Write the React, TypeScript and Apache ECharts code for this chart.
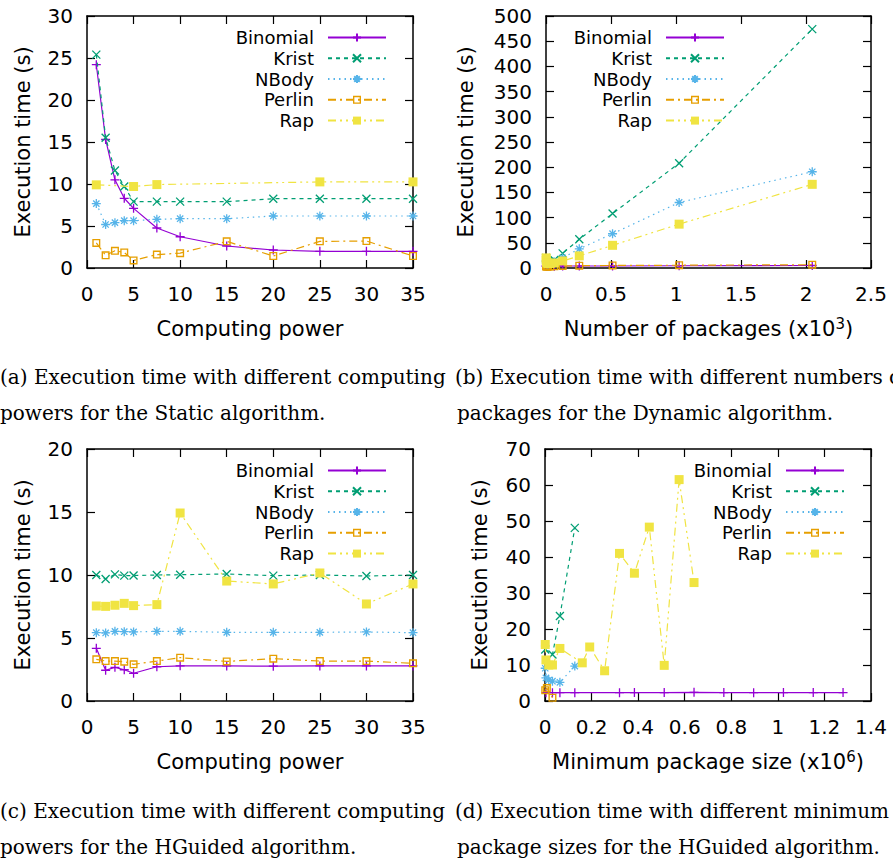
import React, { useEffect, useRef } from 'react';
import * as echarts from 'echarts';

const seriesNames = ['Binomial', 'Krist', 'NBody', 'Perlin', 'Rap'];
const seriesColors = ['#9400D3', '#009E73', '#56B4E9', '#E69F00', '#F0E442'];

// (a) Static algorithm vs computing power
const powerX = [1, 2, 3, 4, 5, 7.5, 10, 15, 20, 25, 30, 35];
const staticBinomial = [24.2, 15.3, 10.5, 8.3, 7.1, 4.76, 3.72, 2.62, 2.14, 1.98, 1.98, 1.98];
const staticKrist = [25.4, 15.5, 11.6, 9.7, 7.9, 7.9, 7.9, 7.9, 8.25, 8.25, 8.25, 8.25];
const staticNBody = [7.67, 5.18, 5.4, 5.63, 5.63, 5.8, 5.87, 5.87, 6.19, 6.19, 6.19, 6.19];
const staticPerlin = [2.98, 1.51, 2.05, 1.85, 0.9, 1.6, 1.77, 3.17, 1.43, 3.17, 3.21, 1.43];
const staticRapX = [1, 5, 7.5, 25, 35];
const staticRap = [9.9, 9.7, 9.93, 10.25, 10.25];

// (b) Dynamic algorithm vs number of packages (x10^3)
const packX = [0.001, 0.002, 0.004, 0.008, 0.016, 0.032, 0.064, 0.128, 0.256, 0.512, 1.024, 2.048];
const dynBinomial = [4, 3.5, 3.5, 3.5, 3.5, 3.5, 3.5, 4, 4, 4, 4.5, 5];
const dynKrist = [20, 16, 14, 13, 12, 12, 16, 29, 57, 108, 208, 474];
const dynNBody = [14, 10, 8, 7, 7, 8, 12, 20, 38, 68, 130, 191];
const dynPerlin = [4, 3, 3, 3, 3, 3, 3.5, 4, 4.5, 5, 5.5, 6.5];
const dynRap = [20, 15, 12, 10, 9, 9, 10, 14, 24, 45, 87, 166];

// (c) HGuided algorithm vs computing power
const hgBinomial = [4.18, 2.44, 2.67, 2.48, 2.2, 2.72, 2.79, 2.78, 2.76, 2.78, 2.78, 2.78];
const hgKrist = [10.0, 9.68, 10.05, 9.95, 9.96, 10.0, 10.02, 10.08, 9.95, 10.0, 9.92, 10.0];
const hgNBody = [5.42, 5.4, 5.53, 5.5, 5.48, 5.53, 5.53, 5.45, 5.45, 5.45, 5.48, 5.42];
const hgPerlin = [3.31, 3.17, 3.17, 3.12, 2.91, 3.17, 3.44, 3.14, 3.36, 3.17, 3.17, 2.99];
const hgRap = [7.54, 7.51, 7.6, 7.75, 7.57, 7.65, 14.92, 9.52, 9.29, 10.16, 7.7, 9.29];

// (d) HGuided algorithm vs minimum package size (x10^6)
const minBinomialX = [0.004, 0.032, 0.064, 0.128, 0.32, 0.384, 0.512, 0.64, 0.768, 0.896, 1.024, 1.152, 1.28];
const minBinomial = [2.3, 2.3, 2.3, 2.3, 2.3, 2.35, 2.35, 2.4, 2.35, 2.3, 2.35, 2.35, 2.35];
const minKristX = [0.001, 0.032, 0.064, 0.128];
const minKrist = [14.3, 12.9, 23.6, 48.1];
const minNBodyX = [0.001, 0.004, 0.016, 0.032, 0.064, 0.128];
const minNBody = [9.1, 6.4, 5.8, 5.5, 5.2, 9.7];
const minPerlinX = [0.001, 0.008, 0.032];
const minPerlin = [3.0, 3.6, 0.9];
const minRapX = [0.001, 0.004, 0.016, 0.032, 0.064, 0.16, 0.192, 0.256, 0.32, 0.384, 0.448, 0.512, 0.576, 0.64];
const minRap = [15.7, 11.4, 10, 10, 14.6, 10.6, 15, 8.4, 41, 35.5, 48.3, 9.9, 61.5, 32.9];

const captionLines = [
  { text: '(a) Execution time with different computing', x: 0, y: 377 },
  { text: 'powers for the Static algorithm.', x: 0, y: 413 },
  { text: '(b) Execution time with different numbers of', x: 455, y: 377 },
  { text: 'packages for the Dynamic algorithm.', x: 457, y: 413 },
  { text: '(c) Execution time with different computing', x: 0, y: 811 },
  { text: 'powers for the HGuided algorithm.', x: 0, y: 847 },
  { text: '(d) Execution time with different minimum', x: 455, y: 811 },
  { text: 'package sizes for the HGuided algorithm.', x: 457, y: 847 },
];

const FONT = "'DejaVu Sans', sans-serif";
const SERIF = "'DejaVu Serif', serif";

const symbols = [
  'path://M5,0L5,10M0,5L10,5',
  'path://M0,0L10,10M10,0L0,10',
  'path://M5,0L5,10M0,5L10,5M1.5,1.5L8.5,8.5M8.5,1.5L1.5,8.5',
  'path://M0,0H10V10H0ZM1.7,1.7V8.3H8.3V1.7Z',
  'rect',
];
const symbolSizes = [9, 8, 9, 8, 9];
const dashes: any[] = ['solid', [4, 4], [1.5, 4], [8, 4, 2, 4], [8, 4, 2, 4, 2, 4]];

function mkSeries(si: number, grid: number, xs: number[], ys: number[]) {
  const c = seriesColors[si];
  const isStroke = si < 3;
  return {
    type: 'line',
    name: seriesNames[si],
    xAxisIndex: grid * 2,
    yAxisIndex: grid * 2,
    data: xs.map((x, i) => [x, ys[i]]),
    symbol: symbols[si],
    symbolSize: symbolSizes[si],
    showSymbol: true,
    clip: false,
    lineStyle: { color: c, width: 1.2, type: dashes[si] },
    itemStyle: isStroke ? { color: c, borderColor: c, borderWidth: 1.3 } : { color: c, borderWidth: 0 },
    emphasis: { disabled: true },
    z: 2 + si,
  };
}

type GridDef = {
  left: number; top: number; width: number; height: number;
  xmin: number; xmax: number; xint: number;
  ymin: number; ymax: number; yint: number;
  xName: string; yNameGap: number;
  legendRight: number; legendTop: number;
};

const grids: GridDef[] = [
  { left: 87, top: 16, width: 326, height: 252, xmin: 0, xmax: 35, xint: 5, ymin: 0, ymax: 30, yint: 5,
    xName: 'Computing power', yNameGap: 54, legendRight: 506, legendTop: 27 },
  { left: 546, top: 16, width: 325, height: 252, xmin: 0, xmax: 2.5, xint: 0.5, ymin: 0, ymax: 500, yint: 50,
    xName: 'Number of packages (x10{sup|3})', yNameGap: 70, legendRight: 168, legendTop: 27 },
  { left: 87, top: 449, width: 326, height: 252, xmin: 0, xmax: 35, xint: 5, ymin: 0, ymax: 20, yint: 5,
    xName: 'Computing power', yNameGap: 54, legendRight: 506, legendTop: 460 },
  { left: 545, top: 449, width: 326, height: 252, xmin: 0, xmax: 1.4, xint: 0.2, ymin: 0, ymax: 70, yint: 10,
    xName: 'Minimum package size (x10{sup|6})', yNameGap: 55, legendRight: 48, legendTop: 460 },
];

const axisLine = { show: true, onZero: false, lineStyle: { color: '#000', width: 1.5 } };
const axisTick = { show: true, inside: true, length: 8, lineStyle: { color: '#000', width: 1.2 } };
const labelStyle = { fontFamily: FONT, fontSize: 20, color: '#000' };
const nameStyle = { fontFamily: FONT, fontSize: 21, color: '#000' };

function buildOption() {
  const xAxis: any[] = [];
  const yAxis: any[] = [];
  const legend: any[] = [];
  grids.forEach((g, gi) => {
    xAxis.push({
      type: 'value', gridIndex: gi, min: g.xmin, max: g.xmax, interval: g.xint, position: 'bottom',
      axisLine, axisTick, splitLine: { show: false },
      axisLabel: { ...labelStyle, margin: 16, showMaxLabel: true, showMinLabel: true },
      name: g.xName, nameLocation: 'middle', nameGap: 48,
      nameTextStyle: {
        ...nameStyle, lineHeight: 25,
        rich: { sup: { fontFamily: FONT, fontSize: 15, color: '#000', verticalAlign: 'top', lineHeight: 14 } },
      },
    });
    xAxis.push({
      type: 'value', gridIndex: gi, min: g.xmin, max: g.xmax, interval: g.xint, position: 'top',
      axisLine, axisTick, splitLine: { show: false }, axisLabel: { show: false },
    });
    yAxis.push({
      type: 'value', gridIndex: gi, min: g.ymin, max: g.ymax, interval: g.yint, position: 'left',
      axisLine, axisTick, splitLine: { show: false },
      axisLabel: { ...labelStyle, margin: 14 },
      name: 'Execution time (s)', nameLocation: 'middle', nameGap: g.yNameGap,
      nameTextStyle: { ...nameStyle },
    });
    yAxis.push({
      type: 'value', gridIndex: gi, min: g.ymin, max: g.ymax, interval: g.yint, position: 'right',
      axisLine, axisTick, splitLine: { show: false }, axisLabel: { show: false },
    });
    legend.push({
      orient: 'vertical', align: 'right', right: g.legendRight, top: g.legendTop,
      padding: 0, itemGap: 0, itemWidth: 58, itemHeight: 10,
      selectedMode: false,
      data: seriesNames,
      textStyle: { fontFamily: FONT, fontSize: 18, color: '#000', lineHeight: 20.8, padding: [0, 9, 0, 0] },
    });
  });

  const series: any[] = [
    mkSeries(0, 0, powerX, staticBinomial),
    mkSeries(1, 0, powerX, staticKrist),
    mkSeries(2, 0, powerX, staticNBody),
    mkSeries(3, 0, powerX, staticPerlin),
    mkSeries(4, 0, staticRapX, staticRap),
    mkSeries(0, 1, packX, dynBinomial),
    mkSeries(1, 1, packX, dynKrist),
    mkSeries(2, 1, packX, dynNBody),
    mkSeries(3, 1, packX, dynPerlin),
    mkSeries(4, 1, packX, dynRap),
    mkSeries(0, 2, powerX, hgBinomial),
    mkSeries(1, 2, powerX, hgKrist),
    mkSeries(2, 2, powerX, hgNBody),
    mkSeries(3, 2, powerX, hgPerlin),
    mkSeries(4, 2, powerX, hgRap),
    mkSeries(0, 3, minBinomialX, minBinomial),
    mkSeries(1, 3, minKristX, minKrist),
    mkSeries(2, 3, minNBodyX, minNBody),
    mkSeries(3, 3, minPerlinX, minPerlin),
    mkSeries(4, 3, minRapX, minRap),
  ];

  const graphic = captionLines.map((c) => ({
    type: 'text', x: c.x, y: c.y, silent: true,
    style: { text: c.text, fontFamily: SERIF, fontSize: 20, fill: '#000', verticalAlign: 'middle', align: 'left' },
  }));

  return {
    animation: false,
    backgroundColor: '#fff',
    grid: grids.map((g) => ({ left: g.left, top: g.top, width: g.width, height: g.height, show: false })),
    xAxis, yAxis, legend, series, graphic,
  };
}

export default function App() {
  const ref = useRef<HTMLDivElement>(null);
  useEffect(() => {
    if (!ref.current) return;
    const chart = echarts.init(ref.current, undefined, { renderer: 'svg' });
    chart.setOption(buildOption() as any);
    return () => chart.dispose();
  }, []);
  return (
    <div
      ref={ref}
      style={{ position: 'absolute', left: 0, top: 0, width: 893, height: 862, background: '#fff' }}
    />
  );
}
